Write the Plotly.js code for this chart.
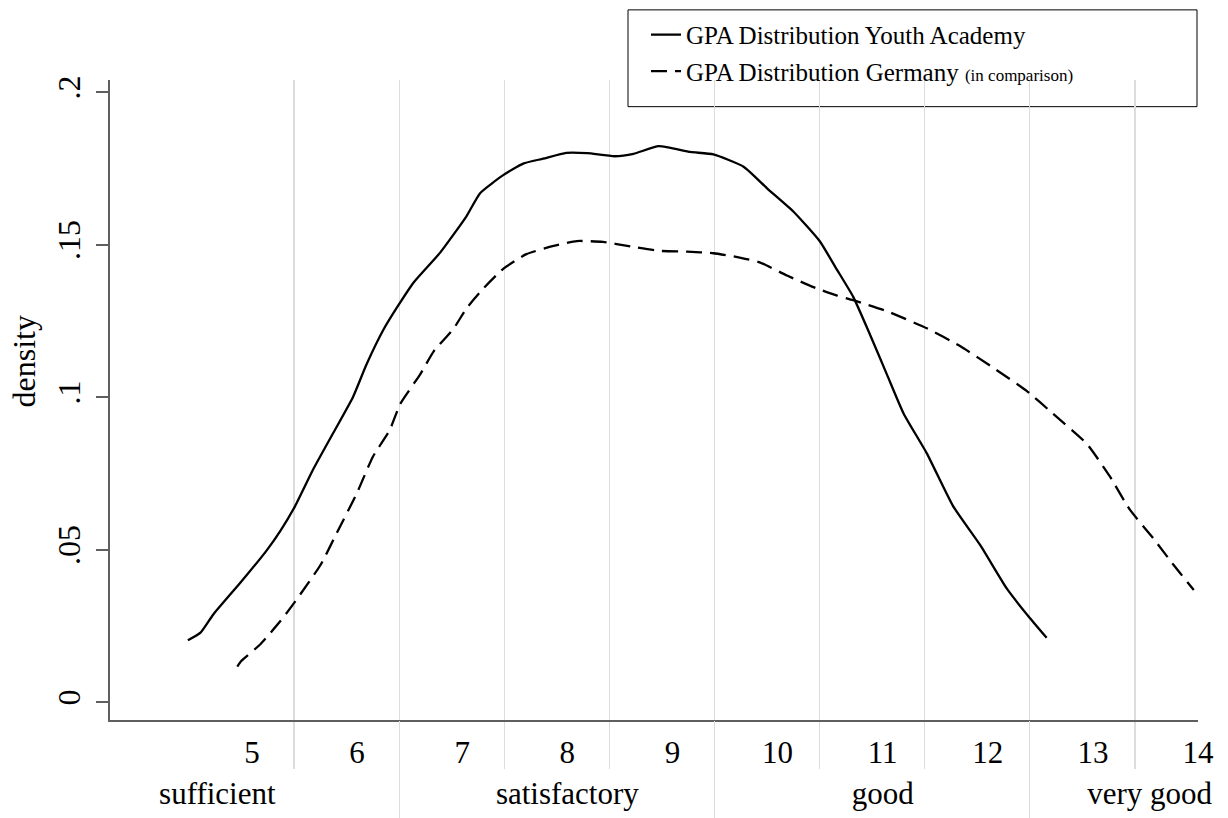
<!DOCTYPE html>
<html>
<head>
<meta charset="utf-8">
<script src="https://cdn.plot.ly/plotly-3.0.1.min.js"></script>
<style>html,body{margin:0;padding:0;background:#fff;}#chart{width:1228px;height:818px;}</style>
</head>
<body>
<div id="chart"></div>
<script>
// GPA values (x) and kernel density (y)
const youthGPA = [4.39, 4.51, 4.63, 4.79, 4.95, 5.14, 5.27, 5.41, 5.58, 5.77, 5.96, 6.09, 6.25, 6.39, 6.54, 6.79, 7.04, 7.17, 7.39, 7.58, 7.77, 7.99, 8.19, 8.45, 8.63, 8.87, 9.17, 9.39, 9.68, 9.90, 10.15, 10.40, 10.56, 10.72, 10.88, 11.04, 11.20, 11.42, 11.67, 11.93, 12.18, 12.40, 12.56];
const youthDensity = [0.0203, 0.0228, 0.0287, 0.0352, 0.0417, 0.0498, 0.0562, 0.0643, 0.0762, 0.0881, 0.1000, 0.1108, 0.1221, 0.1300, 0.1377, 0.1474, 0.1593, 0.1669, 0.1728, 0.1766, 0.1782, 0.1801, 0.1800, 0.1790, 0.1798, 0.1823, 0.1804, 0.1796, 0.1755, 0.1685, 0.1609, 0.1512, 0.1421, 0.1329, 0.1205, 0.1075, 0.0946, 0.0816, 0.0643, 0.0514, 0.0373, 0.0276, 0.0211];

const germanyGPA = [4.86, 4.90, 5.08, 5.27, 5.41, 5.65, 5.81, 6.00, 6.15, 6.31, 6.41, 6.60, 6.73, 6.92, 7.04, 7.20, 7.39, 7.61, 7.87, 8.09, 8.34, 8.57, 8.87, 9.14, 9.39, 9.64, 9.83, 10.09, 10.34, 10.56, 10.72, 11.04, 11.42, 11.74, 12.05, 12.37, 12.62, 12.94, 13.16, 13.35, 13.58, 13.77, 13.96];
const germanyDensity = [0.0117, 0.0136, 0.0190, 0.0266, 0.0330, 0.0449, 0.0557, 0.0687, 0.0805, 0.0892, 0.0978, 0.1075, 0.1151, 0.1226, 0.1291, 0.1356, 0.1421, 0.1469, 0.1496, 0.1512, 0.1509, 0.1496, 0.1480, 0.1477, 0.1472, 0.1458, 0.1442, 0.1399, 0.1361, 0.1334, 0.1318, 0.1282, 0.1226, 0.1167, 0.1097, 0.1021, 0.0946, 0.0848, 0.0741, 0.0632, 0.0535, 0.0449, 0.0368];

const seriesNames = ['GPA Distribution Youth Academy', 'GPA Distribution Germany <span style="font-size:17px">(in comparison)</span>'];
const yTitle = 'density';

// axis ticks
const gradeTickVals = [5, 6, 7, 8, 9, 10, 11, 12, 13, 14];
const gradeTickText = ['5', '6', '7', '8', '9', '10', '11', '12', '13', '14'];
const gridVals = [5.4, 6.4, 7.4, 8.4, 9.4, 10.4, 11.4, 12.4, 13.4];
const bandEdges = [6.4, 9.4, 12.4];
const bandCenters = [4.67, 8.0, 11.0, 13.54];
const bandNames = ['sufficient', 'satisfactory', 'good', 'very good'];
const densityTickVals = [0, 0.05, 0.1, 0.15, 0.2];
const densityTickText = ['0', '.05', '.1', '.15', '.2'];

const xRange = [3.649, 14.0];
const yRange = [-0.00583, 0.2040];
const FONT = 'Liberation Serif, Times New Roman, serif';
const GRID = '#dcdcdc';
const AXIS = '#5f5f5f';

const traces = [
  {x: youthGPA, y: youthDensity, type: 'scatter', mode: 'lines', name: seriesNames[0], legendgroup: 'a',
   line: {color: '#000', width: 2.3, shape: 'spline', smoothing: 0.5}, hoverinfo: 'skip'},
  {x: germanyGPA, y: germanyDensity, type: 'scatter', mode: 'lines', name: seriesNames[1], legendgroup: 'b',
   line: {color: '#000', width: 2.3, dash: '16px,8px', shape: 'spline', smoothing: 0.5}, hoverinfo: 'skip'},
  {x: [], y: [], xaxis: 'x2', yaxis: 'y', showlegend: false, type: 'scatter'},
  {x: [], y: [], xaxis: 'x3', yaxis: 'y', showlegend: false, type: 'scatter'},
  {x: [], y: [], xaxis: 'x4', yaxis: 'y', showlegend: false, type: 'scatter'}
];

const L = 110, R = 30, T = 72, B = 98, W = 1228, H = 818;
const pw = W - L - R, ph = H - T - B;
const px = v => (v - L) / pw;
const py = v => (H - B - v) / ph;

const layout = {
  width: W, height: H,
  margin: {l: L, r: R, t: T, b: B},
  paper_bgcolor: '#fff', plot_bgcolor: '#fff',
  font: {family: FONT, color: '#000', size: 25},
  showlegend: true,
  legend: {
    x: px(646), xanchor: 'left', y: py(3), yanchor: 'top',
    bgcolor: 'rgba(0,0,0,0)', borderwidth: 0,
    font: {family: FONT, size: 25, color: '#000'},
    tracegroupgap: 1
  },
  shapes: [{
    type: 'rect', xref: 'paper', yref: 'paper',
    x0: px(628), x1: px(1197), y0: py(99), y1: py(1),
    line: {color: '#000', width: 1}, fillcolor: '#fff', layer: 'below'
  }],
  annotations: [{
    text: yTitle, xref: 'paper', yref: 'paper', x: px(24), y: py(357),
    xanchor: 'center', yanchor: 'middle', textangle: -90, showarrow: false,
    font: {family: FONT, size: 32, color: '#000'}
  }],
  xaxis: {
    range: xRange, tickmode: 'array', tickvals: gridVals, showticklabels: false,
    showgrid: true, gridcolor: GRID, gridwidth: 1.3,
    ticks: 'outside', ticklen: 47, tickcolor: GRID, tickwidth: 1.3,
    showline: true, linecolor: AXIS, linewidth: 2, zeroline: false, fixedrange: true
  },
  xaxis2: {
    overlaying: 'x', anchor: 'y', side: 'bottom', range: xRange,
    tickmode: 'array', tickvals: gradeTickVals, ticktext: gradeTickText,
    ticks: '', showgrid: false, showline: false, zeroline: false,
    tickfont: {family: FONT, size: 31, color: '#000'}, ticklabelstandoff: 11
  },
  xaxis3: {
    overlaying: 'x', anchor: 'y', side: 'bottom', range: xRange,
    tickmode: 'array', tickvals: bandEdges, showticklabels: false,
    ticks: 'outside', ticklen: 98, tickcolor: GRID, tickwidth: 1.3,
    showgrid: false, showline: false, zeroline: false
  },
  xaxis4: {
    overlaying: 'x', anchor: 'y', side: 'bottom', range: xRange,
    tickmode: 'array', tickvals: bandCenters, ticktext: bandNames,
    ticks: '', showgrid: false, showline: false, zeroline: false,
    tickfont: {family: FONT, size: 31, color: '#000'}, ticklabelstandoff: 52
  },
  yaxis: {
    range: yRange, tickmode: 'array', tickvals: densityTickVals, ticktext: densityTickText,
    tickangle: -90, ticks: 'outside', ticklen: 12, tickcolor: AXIS, tickwidth: 2,
    tickfont: {family: FONT, size: 32, color: '#000'}, ticklabelstandoff: 3,
    showgrid: false, showline: true, linecolor: AXIS, linewidth: 2, zeroline: false,
    fixedrange: true
  }
};

Plotly.newPlot('chart', traces, layout, {displayModeBar: false, staticPlot: true});
</script>
</body>
</html>
